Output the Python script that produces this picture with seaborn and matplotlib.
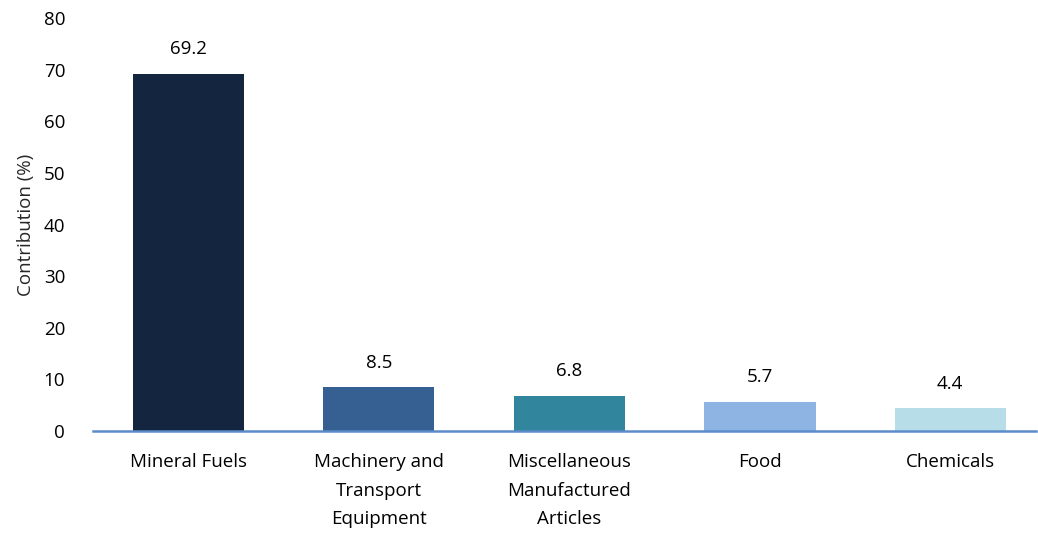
import pandas as pd
import seaborn as sns
import matplotlib.pyplot as plt

categories = ["Mineral Fuels", "Machinery and\nTransport\nEquipment",
              "Miscellaneous\nManufactured\nArticles", "Food", "Chemicals"]
contribution = [69.2, 8.5, 6.8, 5.7, 4.4]
bar_colors = ["#14263F", "#376092", "#31859C", "#8EB4E3", "#B7DEE8"]

df = pd.DataFrame({"category": categories, "value": contribution})

sns.set_style("white")
plt.rcParams["font.family"] = ["Open Sans", "DejaVu Sans"]

fig = plt.figure(figsize=(10.38, 5.36), dpi=100)
ax = fig.add_axes([0.0896, 0.196, 0.9085, 0.770])

sns.barplot(data=df, x="category", y="value", hue="category",
            palette=bar_colors, width=0.585, legend=False, ax=ax,
            saturation=1, linewidth=0)

for i, v in enumerate(contribution):
    ax.text(i, v + 3.0, f"{v:.1f}", ha="center", va="bottom", fontsize=13.5, color="#000000")

ax.set_ylim(0, 80)
ax.set_yticks(range(0, 81, 10))
ax.set_xlim(-0.5, 4.45)
ax.set_xlabel("")
ax.set_ylabel("Contribution (%)", fontsize=13.5, labelpad=6)
ax.tick_params(axis="both", length=0, labelsize=13.5, colors="#000000")
ax.tick_params(axis="x", pad=16)
ax.tick_params(axis="y", pad=20)
for lab in ax.get_xticklabels():
    lab.set_linespacing(1.75)

for side in ["top", "right", "left"]:
    ax.spines[side].set_visible(False)
ax.spines["bottom"].set_color("#5B8BC9")
ax.spines["bottom"].set_linewidth(1.8)

fig.savefig("out.png", dpi=100)
